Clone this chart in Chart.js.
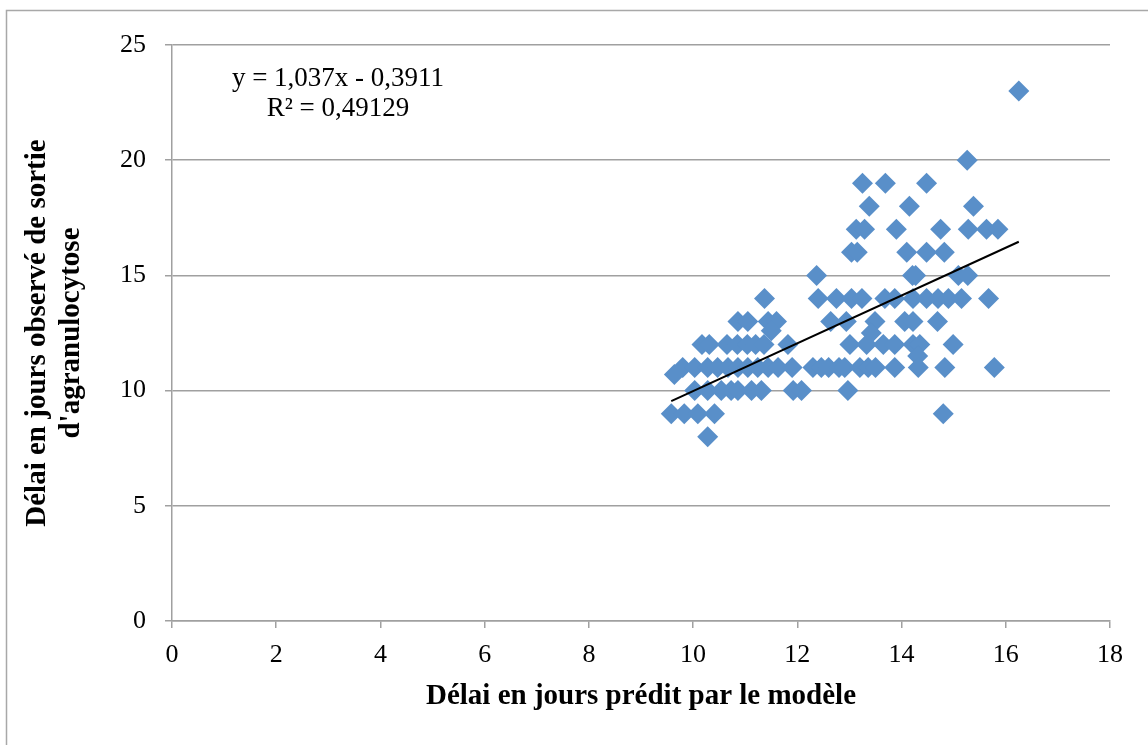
<!DOCTYPE html>
<html>
<head>
<meta charset="utf-8">
<script src="https://cdn.jsdelivr.net/npm/chart.js@4.4.0/dist/chart.umd.min.js"></script>
<style>
  html, body { margin: 0; padding: 0; background: #fff; }
</style>
</head>
<body>
<canvas id="chart" width="1148" height="745"></canvas>
<script>
// observed delay (days), one entry per row of points
const observedLevels = [23, 20, 19, 18, 17, 16, 15, 14, 13, 12.6, 12.5, 12, 11.5, 11, 10.7, 10, 9, 8];
// predicted delay for the points on each row
const predictedByLevel = [
  [16.25],
  [15.26],
  [13.25, 13.69, 14.48],
  [13.38, 14.15, 15.38],
  [13.13, 13.29, 13.9, 14.75, 15.28, 15.63, 15.85],
  [13.04, 13.15, 14.1, 14.48, 14.82],
  [12.37, 14.21, 14.27, 15.09, 15.27],
  [11.37, 12.4, 12.75, 13.04, 13.24, 13.68, 13.87, 14.22, 14.48, 14.7, 14.9, 15.15, 15.67],
  [10.86, 11.05, 11.44, 11.6, 12.64, 12.94, 13.49, 14.06, 14.22, 14.69],
  [11.5],
  [13.42],
  [10.17, 10.31, 10.65, 10.85, 11.04, 11.2, 11.36, 11.82, 13.01, 13.33, 13.65, 13.87, 14.22, 14.35, 14.99],
  [14.31],
  [9.8, 10.03, 10.28, 10.47, 10.67, 10.86, 11.05, 11.24, 11.44, 11.63, 11.9, 12.3, 12.46, 12.6, 12.8, 12.91, 13.2, 13.36, 13.5, 13.87, 14.32, 14.83, 15.78],
  [9.64],
  [10.03, 10.28, 10.54, 10.73, 10.86, 11.12, 11.31, 11.92, 12.08, 12.97],
  [9.58, 9.83, 10.09, 10.41, 14.8],
  [10.28]
];
// trendline as shown on the chart
const slope = 1.037;
const intercept = -0.3911;
const equationText = ['y = 1,037x - 0,3911', 'R\u00B2 = 0,49129'];

const xTitle = 'Délai en jours prédit par le modèle';
const yTitle = ['Délai en jours observé de sortie', "d'agranulocytose"];

const points = [];
observedLevels.forEach((obs, i) => {
  predictedByLevel[i].forEach(p => points.push({ x: p, y: obs }));
});
const xs = points.map(p => p.x);
const xMin = Math.min(...xs), xMax = Math.max(...xs);
const trend = [
  { x: xMin, y: slope * xMin + intercept },
  { x: xMax, y: slope * xMax + intercept }
];

const gridGray = '#a0a0a0';
const serif = '"Liberation Serif", "Times New Roman", serif';

const extras = {
  id: 'extras',
  beforeDraw(chart) {
    const ctx = chart.ctx;
    ctx.save();
    ctx.fillStyle = '#fff';
    ctx.fillRect(0, 0, chart.width, chart.height);
    ctx.restore();
  },
  afterDraw(chart) {
    const ctx = chart.ctx;
    ctx.save();
    // outer frame (only left and top edges are in view)
    ctx.strokeStyle = '#a8a8a8';
    ctx.lineWidth = 1.5;
    ctx.beginPath();
    ctx.moveTo(6.5, chart.height);
    ctx.lineTo(6.5, 10.5);
    ctx.lineTo(chart.width, 10.5);
    ctx.stroke();
    // equation label
    ctx.fillStyle = '#000';
    ctx.font = '27px ' + serif;
    ctx.textAlign = 'center';
    ctx.fillText(equationText[0], 338, 86);
    ctx.fillText(equationText[1], 338, 116);
    ctx.restore();
  }
};

new Chart(document.getElementById('chart'), {
  type: 'scatter',
  data: {
    datasets: [
      {
        type: 'line',
        data: trend,
        borderColor: '#000',
        borderWidth: 2,
        pointRadius: 0,
        fill: false,
        order: 0
      },
      {
        data: points,
        pointStyle: 'rectRot',
        pointRadius: 10.5,
        pointBackgroundColor: 'rgb(89,143,201)',
        pointBorderWidth: 0,
        order: 1
      }
    ]
  },
  options: {
    responsive: false,
    animation: false,
    layout: { padding: { top: 45, right: 38, left: 0, bottom: 0 } },
    plugins: { legend: { display: false }, tooltip: { enabled: false } },
    scales: {
      x: {
        type: 'linear',
        min: 0,
        max: 18,
        ticks: { stepSize: 2, color: '#000', font: { family: serif, size: 26 }, padding: 12 },
        grid: { drawOnChartArea: false, drawTicks: true, tickLength: 7, color: gridGray, lineWidth: 1.5 },
        border: { color: gridGray, width: 1.5 },
        title: {
          display: true,
          text: xTitle,
          color: '#000',
          font: { family: serif, size: 29, weight: 'bold' },
          padding: { top: 0, bottom: 31 }
        },
        afterFit(scale) { scale.height = 124; }
      },
      y: {
        min: 0,
        max: 25,
        ticks: { stepSize: 5, color: '#000', font: { family: serif, size: 26 }, padding: 19 },
        grid: { tickLength: 7, color: gridGray, lineWidth: 1.5 },
        border: { color: gridGray, width: 1.5 },
        title: {
          display: true,
          text: yTitle,
          color: '#000',
          font: { family: serif, size: 29, weight: 'bold', lineHeight: '34px' },
          padding: { top: 21, bottom: 0 }
        },
        afterFit(scale) { scale.width = 172; }
      }
    }
  },
  plugins: [extras]
});
</script>
</body>
</html>
